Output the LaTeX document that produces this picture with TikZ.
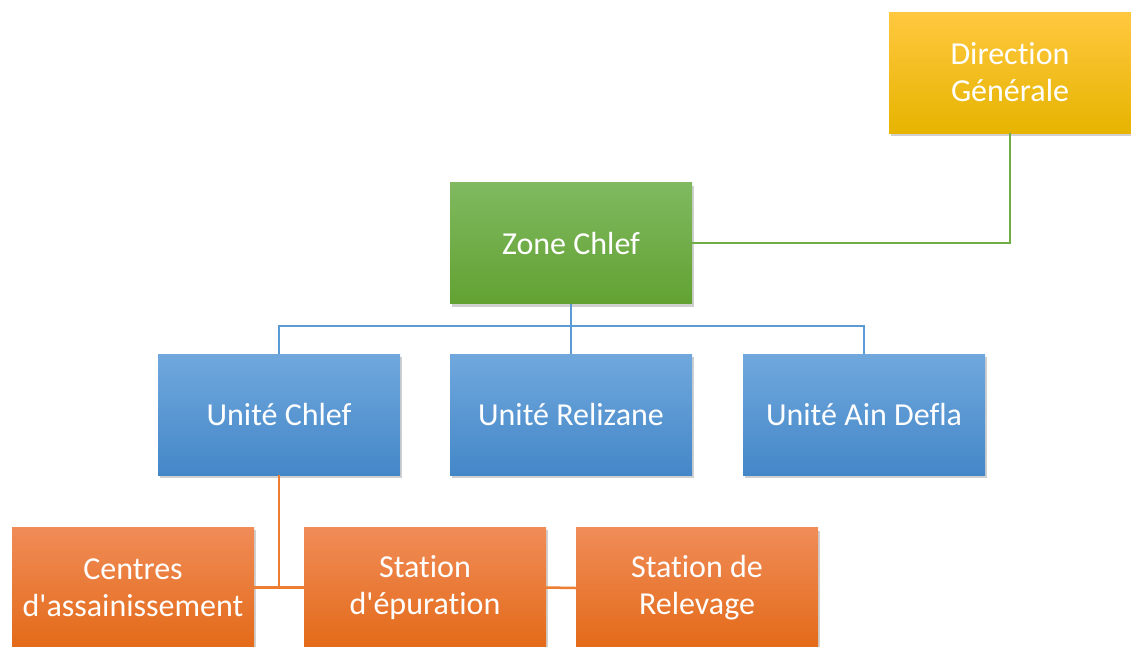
\documentclass[tikz,border=0pt]{standalone}
\usepackage{fontspec}
\newfontfamily\boxfont{Carlito}[Ligatures=NoCommon]
\usetikzlibrary{shadows}
\definecolor{yelTop}{HTML}{FFC840}
\definecolor{yelMid}{HTML}{FFC000}
\definecolor{yelBot}{HTML}{E6B400}
\definecolor{grnTop}{HTML}{80B960}
\definecolor{grnBot}{HTML}{62A232}
\definecolor{bluTop}{HTML}{70A8DD}
\definecolor{bluBot}{HTML}{4487C8}
\definecolor{orgTop}{HTML}{F08C58}
\definecolor{orgMid}{HTML}{F47C30}
\definecolor{orgBot}{HTML}{E36A18}
\definecolor{lnGreen}{HTML}{70AD47}
\definecolor{lnBlue}{HTML}{5B9BD5}
\definecolor{lnOrange}{HTML}{ED7D31}
\tikzset{
  orgbox/.style={rectangle, minimum width=242pt, minimum height=121pt,
    inner sep=0pt, align=center, text=white,
    font=\boxfont\fontsize{32}{37}\selectfont,
    drop shadow={shadow xshift=2pt, shadow yshift=-3pt, opacity=0.3, fill=black!60}},
  yellowbox/.style={orgbox, top color=yelTop, middle color=yelMid, bottom color=yelBot},
  greenbox/.style={orgbox, top color=grnTop, bottom color=grnBot},
  bluebox/.style={orgbox, top color=bluTop, bottom color=bluBot},
  orangebox/.style={orgbox, top color=orgTop, middle color=orgMid, bottom color=orgBot},
  link/.style={line width=2.5pt}
}
\begin{document}
\begin{tikzpicture}[x=1pt, y=-1pt]
  \useasboundingbox[fill=white] (0,0) rectangle (1131,646);

  % boxes
  \node[yellowbox] (dg) at (1010,72.5) {Direction\\Générale};
  \node[greenbox]  (zone) at (571,243) {Zone Chlef};
  \node[bluebox]   (uc) at (279,414.5) {Unité Chlef};
  \node[bluebox]   (ur) at (571,414.5) {Unité Relizane};
  \node[bluebox]   (ua) at (864,414.5) {Unité Ain Defla};
  \node[orangebox] (ca) at (133,587.5) {Centres\\d'assainissement};
  \node[orangebox] (se) at (425,587.5) {Station\\d'épuration};
  \node[orangebox] (sr) at (697,588) {Station de\\Relevage};

  % connectors
  \draw[link, lnGreen] (zone.east) -| (dg.south);

  \coordinate (bus) at (571,326);
  \draw[link, lnBlue] (zone.south) -- (bus);
  \draw[link, lnBlue] (bus) -| (uc.north);
  \draw[link, lnBlue] (bus) -| (ua.north);
  \draw[link, lnBlue] (bus) -- (ur.north);

  \draw[link, lnOrange] (uc.south) |- (ca.east);
  \draw[link, lnOrange] (uc.south) |- (se.west);
  \draw[link, lnOrange] (se.east) -- (sr.west);
\end{tikzpicture}
\end{document}
